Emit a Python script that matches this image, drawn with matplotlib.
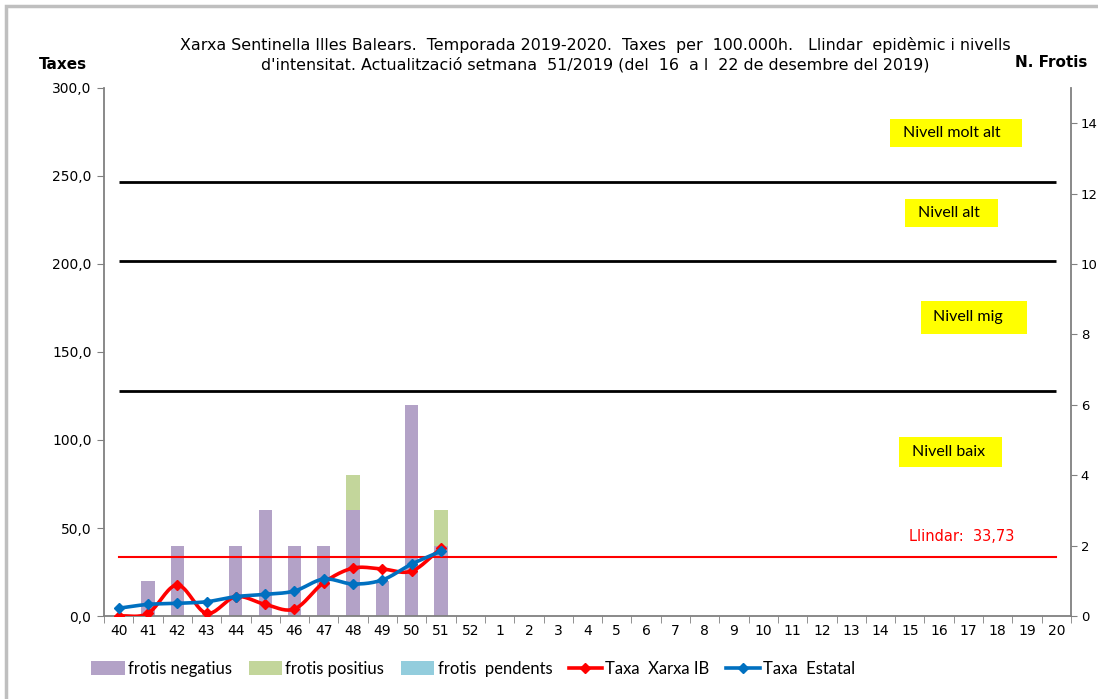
import numpy as np
import matplotlib
matplotlib.use('Agg')
import matplotlib.pyplot as plt
from matplotlib.patches import Rectangle, Patch
from matplotlib.lines import Line2D
from matplotlib.ticker import FuncFormatter, FixedLocator

####################### DATA #######################
weeks = ['40', '41', '42', '43', '44', '45', '46', '47', '48', '49', '50', '51', '52',
         '1', '2', '3', '4', '5', '6', '7', '8', '9', '10', '11', '12', '13', '14',
         '15', '16', '17', '18', '19', '20']

# frotis per setmana (eix dret)
frotis_negatius = [0, 1, 2, 0, 2, 3, 2, 2, 3, 1, 6, 2]
frotis_positius = [0, 0, 0, 0, 0, 0, 0, 0, 1, 0, 0, 1]
frotis_pendents = [0, 0, 0, 0, 0, 0, 0, 0, 0, 0, 0, 0]

# taxes per 100.000h (eix esquerre)
taxa_xarxa_ib = [0.0, 1.5, 17.6, 1.5, 11.0, 6.6, 4.0, 19.0, 27.2, 26.7, 25.5, 38.5]
taxa_estatal = [4.4, 6.6, 7.2, 8.1, 11.0, 12.3, 14.2, 21.0, 18.2, 20.5, 29.5, 36.8]

llindar = 33.73
nivells = [127.8, 201.5, 246.5]
nivell_labels = ['Nivell baix', 'Nivell mig', 'Nivell alt', 'Nivell molt alt']

C_NEG = '#B3A2C7'
C_POS = '#C3D69B'
C_PEN = '#93CDDD'
C_RED = '#FF0000'
C_BLUE = '#0070C0'
GRAY = '#808080'

NARROW = ['Liberation Sans Narrow', 'DejaVu Sans']
LEG_FONT = ['Lato', 'DejaVu Sans']


def smooth(xs, ys, n=20):
    # Catmull-Rom, as the Excel "smoothed line" option
    xs = np.asarray(xs, float)
    ys = np.asarray(ys, float)
    px = np.concatenate([[2 * xs[0] - xs[1]], xs, [2 * xs[-1] - xs[-2]]])
    py = np.concatenate([[2 * ys[0] - ys[1]], ys, [2 * ys[-1] - ys[-2]]])
    t = np.linspace(0, 1, n)
    ox, oy = [], []
    for i in range(1, len(px) - 2):
        for p, o in ((px, ox), (py, oy)):
            p0, p1, p2, p3 = p[i - 1], p[i], p[i + 1], p[i + 2]
            o.extend(0.5 * ((2 * p1) + (-p0 + p2) * t +
                            (2 * p0 - 5 * p1 + 4 * p2 - p3) * t ** 2 +
                            (-p0 + 3 * p1 - 3 * p2 + p3) * t ** 3))
    return np.array(ox), np.array(oy)


fig = plt.figure(figsize=(10.98, 6.99), dpi=100)
ax = fig.add_axes([104 / 1098, 1 - 616 / 699, 967 / 1098, 528 / 699])
ax2 = ax.twinx()

x = np.arange(len(weeks))
xd = np.arange(len(frotis_negatius))

# frotis bars on right axis
bw = 0.45
neg = np.array(frotis_negatius)
pos = np.array(frotis_positius)
pen = np.array(frotis_pendents)
ax2.bar(xd, neg, bw, color=C_NEG, zorder=1)
ax2.bar(xd, pos, bw, bottom=neg, color=C_POS, zorder=1)
ax2.bar(xd, pen, bw, bottom=neg + pos, color=C_PEN, zorder=1)
ax2.set_ylim(0, 15)
ax2.yaxis.set_major_locator(FixedLocator(range(0, 15, 2)))

# put the left axis content above the bars
ax.set_zorder(ax2.get_zorder() + 1)
ax.patch.set_visible(False)

for lv in nivells:
    ax.plot([x[0], x[-1]], [lv, lv], color='black', lw=2, solid_capstyle='butt', zorder=2)
ax.plot([x[0], x[-1]], [llindar, llindar], color=C_RED, lw=1.5, zorder=2)

sx, sy = smooth(xd, taxa_xarxa_ib)
ax.plot(sx, sy, color=C_RED, lw=2.6, zorder=3)
ax.plot(xd, taxa_xarxa_ib, 'D', color=C_RED, ms=5, zorder=3)
sx, sy = smooth(xd, taxa_estatal)
ax.plot(sx, sy, color=C_BLUE, lw=2.6, zorder=4)
ax.plot(xd, taxa_estatal, 'D', color=C_BLUE, ms=5, zorder=4)

ax.set_xlim(-0.5, len(weeks) - 0.5)
ax.set_ylim(0, 300)
ax.set_yticks(np.arange(0, 301, 50))
ax.yaxis.set_major_formatter(FuncFormatter(lambda v, p: f'{v:.1f}'.replace('.', ',')))
ax.set_xticks(x)
ax.set_xticklabels(weeks)
ax.set_xticks(np.arange(-0.5, len(weeks), 1), minor=True)
ax.tick_params(axis='x', which='major', length=0, labelsize=10, pad=6)
ax.tick_params(axis='x', which='minor', length=5, color=GRAY, direction='out')
ax.tick_params(axis='y', length=5, color=GRAY, labelsize=10, pad=4)
ax2.tick_params(axis='y', length=4, color=GRAY, labelsize=9.5, pad=3)

for a in (ax, ax2):
    a.spines['top'].set_visible(False)
    for s in ('left', 'right', 'bottom'):
        a.spines[s].set_color(GRAY)
        a.spines[s].set_linewidth(1.3)
ax.spines['right'].set_visible(False)
ax2.spines['left'].set_visible(False)
ax2.spines['bottom'].set_visible(False)

# level labels in yellow boxes (axes fraction)
boxes = [
    (0.822, 0.282, 0.929, 0.339, 0.836),
    (0.845, 0.534, 0.954, 0.597, 0.857),
    (0.828, 0.737, 0.925, 0.790, 0.842),
    (0.813, 0.888, 0.949, 0.941, 0.826),
]
for (x0, y0, x1, y1, tx), lab in zip(boxes, nivell_labels):
    ax.add_patch(Rectangle((x0, y0), x1 - x0, y1 - y0, transform=ax.transAxes,
                           facecolor='#FFFF00', edgecolor='none', zorder=5))
    ax.text(tx, (y0 + y1) / 2, lab, transform=ax.transAxes, ha='left', va='center',
            fontsize=11.5, family=LEG_FONT, color='black', zorder=6)

ax.text(0.887, 0.150, 'Llindar:  ' + f'{llindar:.2f}'.replace('.', ','),
        transform=ax.transAxes, ha='center', va='center', fontsize=10.5,
        color=C_RED, zorder=6)

fig.text(0.542, 0.935, 'Xarxa Sentinella Illes Balears.  Temporada 2019-2020.  Taxes  per  100.000h.   Llindar  epidèmic i nivells',
         ha='center', va='center', fontsize=11.4, family=NARROW)
fig.text(0.542, 0.907, "d'intensitat. Actualització setmana  51/2019 (del  16  a l  22 de desembre del 2019)",
         ha='center', va='center', fontsize=11.4, family=NARROW)
fig.text(0.057, 0.908, 'Taxes', ha='center', va='center', fontsize=11,
         fontweight='bold', family=NARROW)
fig.text(0.957, 0.910, 'N. Frotis', ha='center', va='center', fontsize=11,
         fontweight='bold', family=NARROW)

# outer chart frame
fig.patches.append(Rectangle((6 / 1098, -0.1), 1.2, 1 - 6 / 699 + 0.1,
                             transform=fig.transFigure, fill=False,
                             edgecolor='#BFBFBF', lw=2.5))

handles = [
    Patch(facecolor=C_NEG, edgecolor='none', label='frotis negatius'),
    Patch(facecolor=C_POS, edgecolor='none', label='frotis positius'),
    Patch(facecolor=C_PEN, edgecolor='none', label='frotis  pendents'),
    Line2D([], [], color=C_RED, lw=2.6, marker='D', ms=5, label='Taxa  Xarxa IB'),
    Line2D([], [], color=C_BLUE, lw=2.6, marker='D', ms=5, label='Taxa  Estatal'),
]
fig.legend(handles=handles, loc='center', bbox_to_anchor=(0.431, 0.043), ncol=5,
           frameon=False, prop={'family': LEG_FONT, 'size': 12},
           handlelength=2.0, handleheight=0.9, handletextpad=0.2, columnspacing=1.0)

fig.savefig('out.png', dpi=100)
